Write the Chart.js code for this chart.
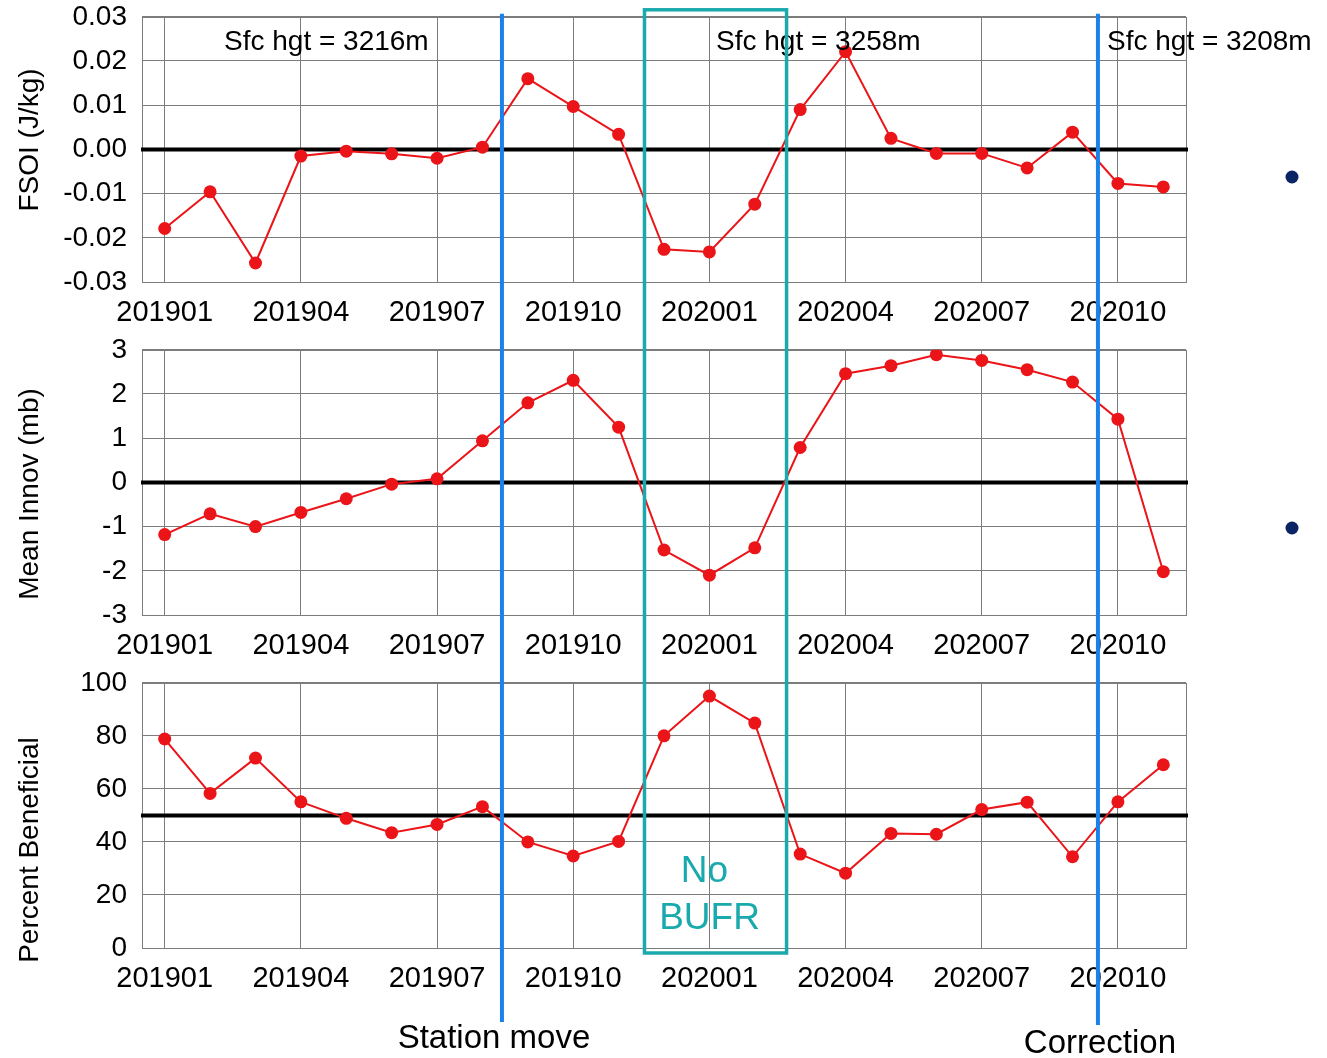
<!DOCTYPE html>
<html>
<head>
<meta charset="utf-8">
<script src="https://cdn.jsdelivr.net/npm/chart.js@4.4.1/dist/chart.umd.min.js"></script>
<style>
  html, body { margin: 0; padding: 0; background: #fff; }
  #page { position: relative; width: 1327px; height: 1058px; overflow: hidden; }
  #page canvas { position: absolute; left: 0; }
  #overlay { top: 0; pointer-events: none; }
</style>
</head>
<body>
<div id="page">
  <canvas id="c1" width="1327" height="334" style="top:0px"></canvas>
  <canvas id="c2" width="1327" height="334" style="top:333px"></canvas>
  <canvas id="c3" width="1327" height="334" style="top:666px"></canvas>
  <canvas id="overlay" width="1327" height="1058"></canvas>
</div>
<script>
// months, one point per month
const months = ['201901', '201902', '201903', '201904', '201905', '201906', '201907', '201908',
    '201909', '201910', '201911', '201912', '202001', '202002', '202003', '202004',
    '202005', '202006', '202007', '202008', '202009', '202010', '202011'];

// values
const fsoi = [-0.0179, -0.0096, -0.0257, -0.0015, -0.0004, -0.0010, -0.0020, 0.0005,
    0.0160, 0.0097, 0.0034, -0.0226, -0.0232, -0.0124, 0.0090, 0.0221,
    0.0025, -0.0009, -0.0009, -0.0042, 0.0039, -0.0077, -0.0085];
const meanInnov = [-1.18, -0.71, -1.00, -0.68, -0.37, -0.04, 0.08, 0.94,
    1.80, 2.31, 1.25, -1.53, -2.10, -1.48, 0.79, 2.46,
    2.64, 2.89, 2.76, 2.55, 2.27, 1.43, -2.02];
const pctBeneficial = [78.8, 58.3, 71.6, 55.1, 48.9, 43.5, 46.6, 53.3,
    40.0, 34.7, 40.2, 80.0, 95.0, 84.8, 35.4, 28.2,
    43.2, 42.9, 52.2, 55.0, 34.4, 55.1, 69.1];

const axisTitles = ['FSOI (J/kg)', 'Mean Innov (mb)', 'Percent Beneficial'];
const yLimits = [[-0.03, 0.03, 0.01], [-3, 3, 1], [0, 100, 20]];
const refValues = [0, 0, 50];

// annotations (month index positions)
const eventIdx = [7.43, 20.56];
const eventLabels = ['Station move', 'Correction'];
const noBufrRange = [10.57, 13.70];
const sfcLabels = ['Sfc hgt = 3216m', 'Sfc hgt = 3258m', 'Sfc hgt = 3208m'];

const FONT = '"Liberation Sans", Arial, Helvetica, sans-serif';
const RED = '#eb1418';
const GRID = '#7c7c7c';

// frame round the plot area and the thick reference line
const framePlugin = {
    id: 'frame',
    beforeDatasetsDraw(chart, args, opts) {
        const { ctx, chartArea: a } = chart;
        const y = chart.scales.y;
        ctx.save();
        ctx.strokeStyle = GRID;
        ctx.lineWidth = 1;
        ctx.strokeRect(Math.round(a.left) + 0.5, Math.round(a.top) + 0.5,
            Math.round(a.right - a.left), Math.round(a.bottom - a.top));
        const yy = y.getPixelForValue(opts.refValue);
        ctx.strokeStyle = '#000';
        ctx.lineWidth = 4;
        ctx.beginPath();
        ctx.moveTo(a.left - 1, yy);
        ctx.lineTo(a.right + 2, yy);
        ctx.stroke();
        ctx.restore();
    }
};

function makePanel(id, values, i) {
    const [ymin, ymax, step] = yLimits[i];
    return new Chart(document.getElementById(id), {
        type: 'line',
        data: {
            labels: months,
            datasets: [{
                data: values,
                borderColor: RED,
                backgroundColor: RED,
                borderWidth: 2,
                pointRadius: 6.5,
                pointBorderWidth: 0,
                pointBackgroundColor: RED,
                tension: 0
            }]
        },
        options: {
            responsive: false,
            animation: false,
            devicePixelRatio: 1,
            layout: { padding: { top: 2, right: 141, left: 0, bottom: 0 } },
            plugins: {
                legend: { display: false },
                tooltip: { enabled: false },
                frame: { refValue: refValues[i] }
            },
            scales: {
                x: {
                    type: 'category',
                    offset: true,
                    afterFit: (axis) => { axis.height = 52; },
                    grid: { color: GRID, lineWidth: 1, drawTicks: false, offset: false },
                    border: { display: false },
                    ticks: {
                        autoSkip: false,
                        maxRotation: 0,
                        padding: 14,
                        color: '#000',
                        font: { family: FONT, size: 29 },
                        callback: function (v, idx) {
                            return idx % 3 === 0 ? months[idx] : null;
                        }
                    }
                },
                y: {
                    min: ymin,
                    max: ymax,
                    afterFit: (axis) => { axis.width = 142; },
                    // invisible tick marks give the gap to the labels
                    grid: { color: GRID, lineWidth: 1, drawTicks: true, tickLength: 15, tickColor: 'rgba(0,0,0,0)' },
                    border: { display: false },
                    ticks: {
                        stepSize: step,
                        padding: 0,
                        color: '#000',
                        font: { family: FONT, size: 28 },
                        callback: (v) => i === 0 ? v.toFixed(2) : String(Math.round(v))
                    }
                }
            }
        },
        plugins: [framePlugin]
    });
}

const charts = [
    makePanel('c1', fsoi, 0),
    makePanel('c2', meanInnov, 1),
    makePanel('c3', pctBeneficial, 2)
];
const panelTops = [0, 333, 666];

function drawOverlay() {
    const cv = document.getElementById('overlay');
    const ctx = cv.getContext('2d');
    const xs = charts[0].scales.x;
    const top0 = panelTops[0] + charts[0].chartArea.top;
    const bot2 = panelTops[2] + charts[2].chartArea.bottom;

    // rotated axis titles
    const titleY = [140, 494, 850];
    ctx.fillStyle = '#000';
    ctx.font = '28px ' + FONT;
    ctx.textAlign = 'center';
    ctx.textBaseline = 'middle';
    axisTitles.forEach((t, k) => {
        ctx.save();
        ctx.translate(30, titleY[k]);
        ctx.rotate(-Math.PI / 2);
        ctx.fillText(t, 0, 0);
        ctx.restore();
    });

    // station height notes
    ctx.textAlign = 'left';
    ctx.textBaseline = 'alphabetic';
    const sfcX = [224, 716, 1107];
    sfcLabels.forEach((t, k) => ctx.fillText(t, sfcX[k], 50));

    // No BUFR box
    const bx0 = xs.getPixelForValue(noBufrRange[0]);
    const bx1 = xs.getPixelForValue(noBufrRange[1]);
    ctx.strokeStyle = '#1aa9ad';
    ctx.lineWidth = 3.5;
    ctx.strokeRect(bx0, top0 - 7, bx1 - bx0, bot2 - top0 + 12);
    ctx.fillStyle = '#1aa9ad';
    ctx.font = '37px ' + FONT;
    ctx.textAlign = 'center';
    ctx.fillText('No', (bx0 + bx1) / 2 - 11, 882);
    ctx.fillText('BUFR', (bx0 + bx1) / 2 - 6, 929);

    // event lines
    ctx.strokeStyle = '#1a82eb';
    ctx.lineWidth = 4;
    const evBottom = [1022, 1025];
    const evTextY = [1048, 1053];
    const evTextDx = [-8, 2];
    eventIdx.forEach((v, k) => {
        const px = xs.getPixelForValue(v);
        ctx.beginPath();
        ctx.moveTo(px, top0 - 3);
        ctx.lineTo(px, evBottom[k]);
        ctx.stroke();
        ctx.fillStyle = '#000';
        ctx.font = '33px ' + FONT;
        ctx.fillText(eventLabels[k], px + evTextDx[k], evTextY[k]);
    });

    // slide bullets
    ctx.fillStyle = '#0b2463';
    [177, 528].forEach((by) => {
        ctx.beginPath();
        ctx.arc(1292, by, 6.5, 0, Math.PI * 2);
        ctx.fill();
    });
}

drawOverlay();
</script>
</body>
</html>
